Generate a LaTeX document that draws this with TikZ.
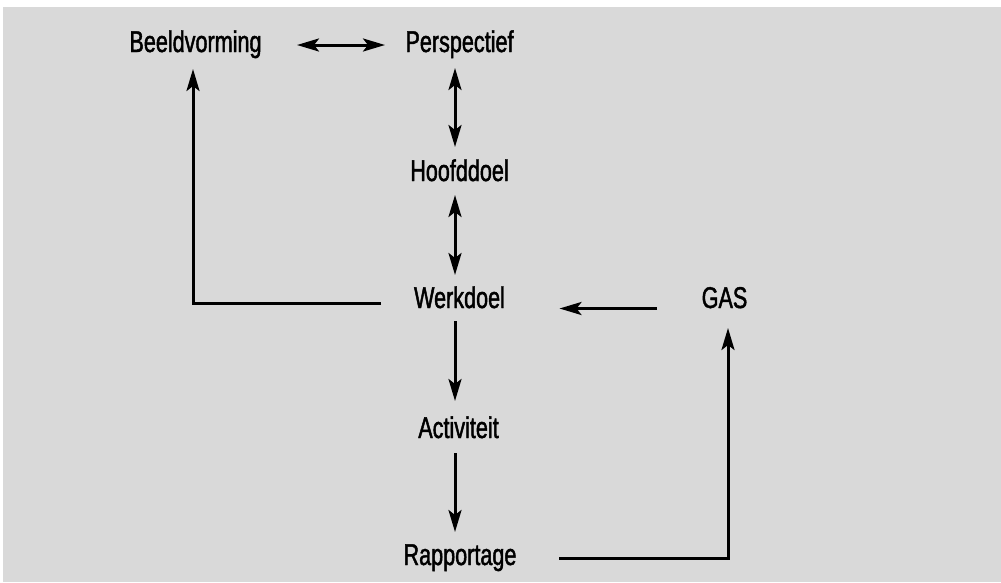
\documentclass[tikz,border=0pt]{standalone}
\usepackage{fontspec}
\setmainfont[FakeStretch=0.72,FakeBold=1.5]{Liberation Sans}
\usetikzlibrary{arrows.meta,calc}
\definecolor{bggray}{HTML}{D9D9D9}
\tikzset{
  lbl/.style={inner sep=0pt, anchor=base, font=\fontsize{30}{33}\selectfont, text=black},
  conn/.style={line width=3pt, draw=black},
  tip/.tip={Stealth[length=22pt,width=13pt,inset=5pt]},
}
\begin{document}
\begin{tikzpicture}[x=1pt,y=-1pt]
\useasboundingbox (0,0) rectangle (1001,582);
\fill[bggray] (3,7) rectangle (1001,582);
\node[lbl] (B) at (195.5,52) {Beeldvorming};
\node[lbl] (P) at (459.5,52) {Perspectief};
\node[lbl] (H) at (459.5,181) {Hoofddoel};
\node[lbl] (W) at (459.5,308) {Werkdoel};
\node[lbl] (G) at (724.5,308) {GAS};
\node[lbl] (A) at (458.5,438) {Activiteit};
\node[lbl] (R) at (460,565) {Rapportage};
\draw[conn,tip-tip] ($(B.base)+(101.5,-7)$) -- ($(P.base)+(-74.5,-7)$);
\draw[conn,tip-tip] ($(P.base)+(-4.5,16)$) -- ($(H.base)+(-4.5,-34)$);
\draw[conn,tip-tip] ($(H.base)+(-4.5,14)$) -- ($(W.base)+(-4.5,-33)$);
\draw[conn,-tip] ($(W.base)+(-4.5,13)$) -- ($(A.base)+(-3.5,-37)$);
\draw[conn,-tip] ($(A.base)+(-3.5,15)$) -- ($(R.base)+(-5,-33)$);
\draw[conn,-tip] ($(W.base)+(-78.5,-5)$) -| ($(B.base)+(-2.5,17)$);
\draw[conn,-tip] ($(G.base)+(-67.5,0.5)$) -- ($(W.base)+(100,0.5)$);
\draw[conn,-tip] ($(R.base)+(99,-7)$) -| ($(G.base)+(3.5,20)$);
\end{tikzpicture}
\end{document}
